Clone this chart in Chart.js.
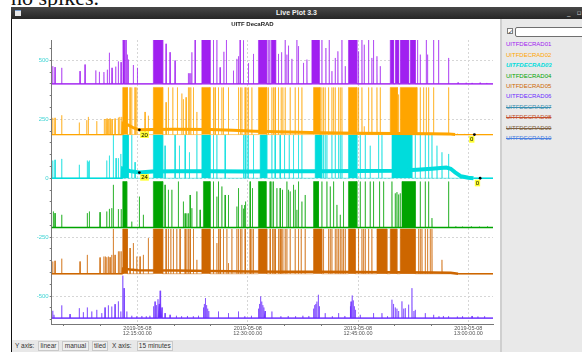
<!DOCTYPE html>
<html>
<head>
<meta charset="utf-8">
<script src="https://cdn.jsdelivr.net/npm/chart.js@4.4.1/dist/chart.umd.min.js"></script>
<style>
  html, body { margin: 0; padding: 0; }
  body { width: 582px; height: 352px; overflow: hidden; position: relative; background: #fff;
         font-family: "Liberation Sans", Arial, sans-serif; }
  .note { position: absolute; left: 11px; top: -13px; font: 22px/22px "Liberation Serif", serif; color: #111; white-space: nowrap; }
  .titlebar { position: absolute; left: 11px; top: 7px; width: 571px; height: 12px;
              background: linear-gradient(#474747, #262626); color: #f0f0f0; }
  .titlebar .name { position: absolute; left: 0; right: 0; top: 0; text-align: center; font: bold 7px/12px "Liberation Sans", Arial, sans-serif; }
  .titlebar .icon { position: absolute; left: 4px; top: 3px; width: 6px; height: 6px; background: #e8e8e8; border-top: 1px solid #7a9fd0; box-sizing: border-box; }
  .titlebar .btns { position: absolute; left: 556px; top: 0; font: 7px/12px "DejaVu Sans", sans-serif; color: #ccc; letter-spacing: 2px; white-space: nowrap; }
  .frame { position: absolute; left: 11px; top: 19px; width: 1.4px; height: 333px; background: #111; }
  .plotpanel { position: absolute; left: 12px; top: 19px; width: 488px; height: 320px; background: #fff; }
  #plot { position: absolute; left: 12px; top: 20px; }
  .divider { position: absolute; left: 500px; top: 19px; width: 2px; height: 333px; background: #cfcfcf; }
  .side { position: absolute; left: 502px; top: 19px; width: 80px; height: 333px; background: #e9e9e9; }
  .check { position: absolute; left: 507px; top: 28px; width: 6px; height: 6px; border: 1px solid #7d7d7d; background: #fff;
           box-sizing: border-box; font: bold 6px/5px "DejaVu Sans", sans-serif; color: #333; text-align: center; }
  .search { position: absolute; left: 515px; top: 26.5px; width: 72px; height: 10px; border: 1px solid #6f6f6f; border-radius: 2px;
            background: #fff; box-sizing: border-box; }
  .legend { position: absolute; left: 506px; top: 39.3px; font: 6px/10.44px "Liberation Sans", Arial, sans-serif; white-space: nowrap; }
  .legend div { height: 10.44px; }
  .toolbar { position: absolute; left: 12px; top: 339.5px; width: 488px; height: 13px; background: #e8e8e8; }
  .tb { position: absolute; top: 341px; height: 10px; font: 6.5px/10px "Liberation Sans", Arial, sans-serif; color: #333; white-space: nowrap; }
  .tb.btn { border: 1px solid #c9c9c9; background: #efefef; box-sizing: border-box; text-align: center; line-height: 8px; }
</style>
</head>
<body>
<div class="note">no spikes.</div>
<div class="titlebar"><div class="icon"></div><div class="name">Live Plot 3.3</div><div class="btns">_ ▫ ×</div></div>
<div class="frame"></div>
<div class="plotpanel"></div>
<canvas id="plot" width="488" height="319"></canvas>
<div class="divider"></div>
<div class="side"></div>
<div class="check">✓</div>
<div class="search"></div>
<div class="legend" id="legend"></div>
<div class="toolbar"></div>
<div class="tb" style="left:15px">Y axis:</div>
<div class="tb btn" style="left:38px;width:21px">linear</div>
<div class="tb btn" style="left:62px;width:27px">manual</div>
<div class="tb btn" style="left:92px;width:16px">tiled</div>
<div class="tb" style="left:112px">X axis:</div>
<div class="tb btn" style="left:136.5px;width:36.5px">15 minutes</div>

<script>
// ---- channels ----
const seriesNames = ['UITFDECRAD01', 'UITFDECRAD02', 'UITFDECRAD03', 'UITFDECRAD04', 'UITFDECRAD05',
                     'UITFDECRAD06', 'UITFDECRAD07', 'UITFDECRAD08', 'UITFDECRAD09', 'UITFDECRAD10'];
const seriesColors = ['#a020f0', '#ffa500', '#00dcdc', '#00a400', '#cd6600',
                      '#6a2bff', '#3a8fb0', '#c4502e', '#7d6142', '#4a7fe0'];
const seriesHidden = [false, false, false, false, false, false, true, true, true, true];
const selectedSeries = 2;

// tiled display: each visible channel is shifted by its offset and saturates at its ceiling
const traceOffsets = [400, 185, 0, -209, -405, -593];
const traceCeilings = [190, 200, 183, 195, 190, 180];

// ---- axes (x in minutes after 12:00) ----
const xMin = 3.35, xMax = 63.35;
const yMin = -618, yMax = 586;
const xTickMinutes = [5, 10, 15, 20, 25, 30, 35, 40, 45, 50, 55, 60];
const xLabelMinutes = [15, 30, 45, 60];
const xLabelDates = ['2019-05-08', '2019-05-08', '2019-05-08', '2019-05-08'];
const xLabelTimes = ['12:15:00.00', '12:30:00.00', '12:45:00.00', '13:00:00.00'];
const yTickValues = [-600, -550, -500, -450, -400, -350, -300, -250, -200, -150, -100, -50,
                     0, 50, 100, 150, 200, 250, 300, 350, 400, 450, 500, 550];
const yLabelValues = [-500, -250, 0, 250, 500];

// ---- background level of each channel: [minute, counts] ----
const floor01 = [[3.35, 0], [63.35, 0]];
const floor02 = [[3.35, 0], [13.0, 0], [13.05, 48], [13.8, 40], [14.5, 28], [15.27, 20], [17, 22], [20, 23], [25, 22],
                 [28, 18], [31, 14], [34, 12], [37, 10], [40, 8], [45, 6], [50, 5], [55, 4], [57.3, 3], [58.2, 0],
                 [60.82, 0], [63.35, 0]];
const floor03 = [[3.35, 0], [13.0, 0], [13.05, 40], [14.0, 30], [15.27, 24], [17, 28], [20, 30], [25, 30], [30, 28],
                 [35, 30], [40, 30], [45, 31], [50, 32], [53, 36], [55, 40], [57, 45], [57.6, 40], [58.2, 25],
                 [59, 8], [60, 2], [60.7, 0], [61.6, 0], [63.35, 0]];
const floor04 = [[3.35, 0], [63.35, 0]];
const floor05 = [[3.35, 0], [13.0, 0], [13.05, 22], [14, 18], [15, 15], [20, 14], [25, 12], [30, 10], [35, 9],
                 [40, 8], [45, 7], [50, 6], [55, 5], [57.6, 4], [58.6, 0], [63.35, 0]];
const floor06 = [[3.35, 0], [63.35, 0]];

// ---- single spikes: [minute, counts] ----
const spikes01 = [[3.49, 75], [3.80, 71], [4.71, 68], [7.20, 54], [7.88, 82], [9.34, 57], [9.83, 51], [10.45, 50],
  [10.91, 60], [11.19, 132], [11.55, 68], [12.05, 73], [12.41, 95], [12.78, 92], [13.05, 190], [13.2, 190],
  [13.35, 190], [13.5, 190], [13.64, 124], [13.78, 103], [14.45, 80], [15.0, 68],
  [18.90, 170], [19.44, 134], [20.12, 99], [21.93, 45], [22.1, 45], [22.26, 45], [22.40, 134], [22.85, 190],
  [25.34, 190], [25.80, 190], [26.25, 70], [26.75, 136], [27.1, 190], [28.06, 56], [28.52, 106], [28.74, 117],
  [28.97, 190], [29.42, 185], [30.10, 88], [30.78, 127], [32.85, 190], [33.0, 190],
  [34.18, 127], [34.6, 134], [35.09, 190], [35.32, 124], [35.54, 162], [36.0, 106], [36.68, 190], [36.9, 160],
  [37.58, 89], [38.05, 103], [40.08, 190], [40.63, 152], [41.08, 190], [41.44, 54], [41.9, 110], [42.26, 138],
  [42.81, 190], [43.26, 75], [45.06, 138], [45.53, 190], [45.84, 166], [46.43, 190], [46.88, 110], [47.10, 190],
  [47.57, 117], [48.02, 75], [53.09, 190], [53.46, 124], [54.28, 190], [54.45, 124], [55.27, 190], [55.95, 190],
  [57.31, 110], [58.6, 6], [59.7, 5], [60.5, 4], [61.6, 5], [62.5, 4]];
const spikes02 = [[3.49, 71], [3.80, 71], [4.71, 82], [7.10, 51], [8.11, 61], [8.33, 75], [9.47, 57], [10.5, 66],
  [10.7, 66], [10.87, 68], [11.05, 66], [11.28, 68], [11.55, 66], [11.96, 68], [12.41, 72], [12.6, 75], [12.87, 75],
  [14.0, 200], [14.23, 200], [14.68, 200], [14.91, 200], [16.04, 96], [16.49, 80],
  [18.90, 137], [19.21, 200], [19.81, 200], [20.44, 200], [21.04, 174], [21.25, 150], [21.62, 158], [21.93, 200],
  [22.1, 200], [22.26, 200], [22.62, 200], [23.08, 96],
  [25.34, 200], [25.57, 200], [26.02, 200], [26.48, 200], [26.7, 200], [27.38, 200], [28.74, 200], [29.0, 200],
  [29.2, 200], [29.65, 200], [29.88, 200], [30.10, 200], [30.56, 200],
  [32.82, 200], [33.28, 200], [33.5, 200], [33.73, 200], [34.18, 200], [34.55, 200], [34.78, 200], [35.09, 200],
  [35.77, 200], [36.45, 200], [36.9, 200], [37.36, 200],
  [40.08, 200], [40.3, 200], [40.53, 200], [40.99, 200], [41.44, 200], [41.67, 200], [41.9, 200], [42.35, 200],
  [42.58, 200], [42.81, 200], [45.06, 200], [45.53, 200], [45.84, 35], [46.43, 200], [46.88, 200], [47.57, 200],
  [48.02, 200], [50.5, 170], [53.46, 200], [53.91, 200], [54.28, 200], [54.59, 200], [55.27, 200], [57.31, 200],
  [58.5, 4], [59.5, 3]];
const spikes03 = [[3.49, 75], [3.80, 78], [4.71, 82], [7.10, 57], [8.19, 75], [8.33, 70], [8.47, 75], [10.83, 75],
  [11.19, 96], [11.73, 183], [12.10, 85], [12.41, 85], [12.74, 103], [14.23, 183], [14.68, 68],
  [18.76, 138], [20.12, 183], [20.71, 138], [21.49, 183], [22.07, 110], [23.08, 183],
  [25.34, 183], [25.80, 183], [26.93, 183], [29.42, 183], [29.65, 183], [29.9, 183], [30.1, 183], [30.78, 183],
  [33.28, 183], [33.73, 183], [34.41, 183], [35.0, 183], [35.64, 183], [36.22, 183], [36.9, 183], [37.36, 183],
  [40.3, 183], [40.53, 183], [40.76, 183], [41.44, 183], [41.9, 183], [42.35, 183], [42.58, 183], [42.81, 183],
  [45.3, 183], [45.98, 183], [46.65, 138], [47.79, 183], [48.25, 183],
  [52.78, 183], [53.46, 183], [54.14, 183], [54.59, 183], [55.05, 183], [55.73, 138], [56.41, 110], [57.31, 103]];
const spikes04 = [[3.57, 68], [3.80, 61], [4.71, 54], [8.19, 61], [8.47, 68], [9.92, 65], [10.83, 68], [11.19, 79],
  [11.51, 82], [11.73, 181], [12.41, 78], [12.8, 78], [14.23, 25], [15.27, 131], [15.81, 54],
  [18.76, 181], [19.21, 160], [19.68, 160], [20.57, 195], [21.25, 110], [21.49, 60], [21.72, 60], [21.93, 60],
  [22.17, 138], [22.4, 82], [23.08, 153], [23.53, 75],
  [25.34, 195], [25.80, 131], [26.02, 195], [26.48, 174], [26.93, 138], [27.38, 138], [28.52, 89], [28.74, 167],
  [29.2, 96], [29.42, 80], [29.56, 95], [29.7, 110], [30.33, 195], [30.64, 167],
  [33.05, 195], [33.28, 195], [33.5, 195], [33.96, 167], [34.41, 167], [34.72, 160], [35.32, 195], [35.54, 160],
  [35.77, 153], [36.22, 181], [36.45, 160], [36.68, 75], [36.9, 195], [37.36, 110], [37.81, 138],
  [40.08, 195], [40.76, 195], [41.22, 174], [41.67, 195], [42.13, 96], [42.58, 54], [43.02, 195],
  [45.3, 195], [45.98, 195], [46.65, 195], [47.10, 195], [47.92, 195], [48.47, 195],
  [49.61, 195], [50.06, 145], [50.29, 150], [50.51, 140], [50.74, 145],
  [53.46, 195], [54.14, 195], [54.59, 195], [55.05, 40], [57.31, 195],
  [58.3, 5], [59.2, 4], [60.4, 5], [61.5, 4], [62.6, 5]];
const spikes05 = [[3.49, 52], [3.80, 55], [4.71, 64], [7.20, 52], [8.19, 80], [9.92, 69], [10.45, 73], [10.65, 73],
  [10.83, 70], [11.05, 73], [11.28, 70], [11.51, 80], [11.73, 190], [11.96, 80], [12.41, 95], [12.6, 95], [12.8, 95],
  [14.0, 109], [14.45, 130], [14.91, 73], [15.36, 73], [15.81, 80], [16.49, 151],
  [18.90, 190], [19.21, 190], [19.54, 190], [19.89, 190], [20.35, 190], [20.8, 190], [21.49, 190], [21.72, 190],
  [21.93, 190], [22.17, 190], [22.62, 190], [23.08, 59],
  [25.34, 190], [25.8, 130], [26.02, 190], [26.25, 190], [26.7, 190], [27.16, 190], [27.38, 45], [27.84, 190],
  [28.52, 190], [28.74, 190], [29.0, 190], [29.2, 190], [29.65, 190], [30.33, 190], [30.56, 190], [30.78, 190],
  [33.05, 190], [33.37, 190], [33.55, 190], [33.73, 190], [34.18, 190], [34.41, 190], [34.6, 190], [34.78, 190],
  [35.09, 190], [35.32, 190], [35.77, 190], [36.45, 190], [36.9, 190], [37.27, 190], [37.81, 190],
  [40.3, 190], [40.99, 190], [41.22, 190], [41.44, 190], [41.9, 190], [42.13, 190], [42.35, 190], [42.58, 190],
  [42.81, 190], [43.02, 190], [43.26, 190],
  [45.06, 190], [45.53, 190], [45.75, 190], [45.98, 190], [46.43, 190], [46.88, 190],
  [53.23, 190], [53.46, 190], [53.69, 190], [54.14, 190], [54.45, 190], [54.82, 190], [55.05, 190], [56.41, 59]];
const spikes06 = [[3.49, 31], [3.66, 14], [4.71, 54], [5.84, 17], [7.10, 42], [7.65, 25], [8.19, 45], [8.79, 28],
  [9.47, 35], [10.15, 21], [10.60, 45], [11.05, 54], [11.51, 49], [11.96, 59], [12.41, 71], [12.74, 28], [13.01, 180],
  [13.19, 127], [13.56, 28], [14.23, 10], [14.9, 8], [15.6, 9], [16.2, 8], [16.7, 10],
  [17.2, 50], [17.4, 70], [17.6, 55], [17.8, 80], [17.95, 60], [18.08, 116], [18.2, 65], [18.35, 45],
  [18.76, 21], [19.44, 14], [20.3, 10], [21.0, 8], [21.8, 9], [22.6, 8], [23.3, 10],
  [23.98, 45], [24.1, 60], [24.25, 85], [24.4, 55], [24.55, 40], [24.7, 30],
  [26.02, 28], [27.38, 21], [28.74, 28], [29.6, 8], [30.5, 10],
  [31.46, 40], [31.6, 60], [31.75, 92], [31.9, 70], [32.05, 55], [32.2, 45], [32.37, 30],
  [33.28, 28], [34.5, 8], [35.5, 9], [36.5, 8], [37.5, 10], [38.3, 9],
  [38.95, 40], [39.1, 55], [39.25, 60], [39.4, 70], [39.6, 99], [39.75, 50],
  [40.53, 21], [41.5, 8], [42.35, 21], [43.2, 9],
  [43.93, 50], [44.05, 70], [44.2, 96], [44.35, 75], [44.5, 50], [44.65, 35],
  [45.3, 14], [47.1, 21], [48.25, 21], [49.0, 8],
  [49.61, 78], [49.82, 60], [50.06, 45], [50.29, 40], [50.51, 30], [50.97, 71], [51.2, 40], [51.42, 42],
  [51.87, 57], [52.33, 127], [52.6, 30], [52.78, 35],
  [54.14, 21], [55.27, 14], [56.0, 8], [56.6, 9], [57.3, 8], [58.5, 7], [59.2, 8], [60.5, 9], [61.3, 7], [62.2, 8]];

// ---- saturated beam periods: [start minute, end minute] ----
const bursts01 = [[17.17, 18.45], [23.76, 24.89], [31.46, 32.6], [33.2, 33.8], [38.72, 39.72], [43.7, 44.85],
                  [49.38, 49.82], [50.06, 50.51], [50.74, 51.87], [52.1, 52.78]];
const bursts02 = [[13.01, 13.64], [17.17, 18.45], [23.76, 24.89], [31.46, 32.6], [38.95, 39.85], [43.7, 44.85],
                  [49.38, 50.35], [50.74, 53.01]];
const bursts03 = [[13.01, 13.78], [17.17, 18.45], [23.76, 24.89], [31.69, 32.6], [39.17, 40.08], [43.7, 44.85],
                  [49.61, 52.33]];
const bursts04 = [[13.01, 13.56], [17.17, 18.45], [23.98, 24.89], [31.46, 32.5], [38.95, 39.62], [43.7, 44.85],
                  [50.97, 52.78]];
const bursts05 = [[13.01, 13.64], [17.17, 18.45], [23.76, 24.89], [31.46, 32.6], [38.95, 40.08], [43.7, 44.62],
                  [47.57, 48.93], [49.38, 50.29], [50.74, 52.78]];
const bursts06 = [];

// ---- cursor read-outs: channel index, minute, counts ----
const markerSeries = [1, 2, 1, 2];
const markerMinutes = [15.27, 15.27, 60.82, 61.6];
const markerValues = [20, 24, 0, 0];

// ---------------------------------------------------------------
const floors = [floor01, floor02, floor03, floor04, floor05, floor06];
const spikes = [spikes01, spikes02, spikes03, spikes04, spikes05, spikes06];
const bursts = [bursts01, bursts02, bursts03, bursts04, bursts05, bursts06];
const floorNoiseWidth = [1.3, 3, 4, 1.3, 2.5, 1.3];
const FONT = '"Liberation Sans", Arial, sans-serif';

function withAlpha(hex, a) {
  const n = parseInt(hex.slice(1), 16);
  return `rgba(${n >> 16},${(n >> 8) & 255},${n & 255},${a})`;
}

// legend panel
const legendEl = document.getElementById('legend');
seriesNames.forEach((name, i) => {
  const d = document.createElement('div');
  d.textContent = name;
  d.style.color = seriesColors[i];
  if (i === selectedSeries) { d.style.fontWeight = 'bold'; d.style.fontStyle = 'italic'; }
  if (seriesHidden[i]) d.style.textDecoration = 'line-through';
  legendEl.appendChild(d);
});

// spike/burst outline of one channel, sitting on its offset
function traceData(i) {
  const off = traceOffsets[i], top = traceCeilings[i], w = 0.02;
  const ev = [];
  spikes[i].forEach(([t, v]) => ev.push({ t, pts: [[t - w, 0], [t, Math.min(v, top)], [t + w, 0]] }));
  bursts[i].forEach(([a, b]) => ev.push({ t: a, pts: [[a, 0], [a, top], [b, top], [b, 0]] }));
  ev.sort((p, q) => p.t - q.t);
  const out = [{ x: xMin, y: off }];
  ev.forEach(e => e.pts.forEach(([x, v]) => out.push({ x, y: off + v })));
  out.push({ x: xMax, y: off });
  return out;
}

const datasets = [];
// read-out points first so they sit on top
datasets.push({
  label: 'readout', data: markerSeries.map((s, k) => ({ x: markerMinutes[k], y: traceOffsets[s] + markerValues[k] })),
  showLine: false, pointRadius: 1.4, pointBackgroundColor: '#000', pointBorderWidth: 0, order: 0
});
const markerDatasetIndex = 0;

for (let i = 0; i < 6; i++) {
  const off = traceOffsets[i];
  datasets.push({
    label: seriesNames[i] + ' level',
    data: floors[i].map(([t, v]) => ({ x: t, y: off + v })),
    borderColor: seriesColors[i], borderWidth: 1.3, pointRadius: 0, fill: false, order: 1,
    segment: { borderWidth: c => (c.p0.parsed.y - off > 0.5 || c.p1.parsed.y - off > 0.5) ? floorNoiseWidth[i] : 1.3 }
  });
  datasets.push({
    label: seriesNames[i],
    data: traceData(i),
    borderColor: withAlpha(seriesColors[i], 0.55), backgroundColor: seriesColors[i], borderWidth: 1,
    borderJoinStyle: 'bevel', pointRadius: 0, fill: { value: off }, order: 2
  });
}

const readoutLabels = {
  id: 'readoutLabels',
  afterDatasetsDraw(chart) {
    const meta = chart.getDatasetMeta(markerDatasetIndex);
    const ctx = chart.ctx;
    ctx.save();
    ctx.font = '6px ' + FONT;
    ctx.textBaseline = 'middle';
    meta.data.forEach((pt, k) => {
      const text = String(markerValues[k]);
      const w = ctx.measureText(text).width + 2;
      const h = 6.6;
      const left = pt.x > chart.chartArea.right - 30;
      const bx = left ? pt.x - w : pt.x + 0.8;
      const by = pt.y + 1.5;
      ctx.fillStyle = '#ffff33';
      ctx.fillRect(bx, by, w, h);
      ctx.fillStyle = '#000';
      ctx.fillText(text, bx + 1, by + h / 2 + 0.3);
    });
    ctx.restore();
  }
};

new Chart(document.getElementById('plot'), {
  type: 'line',
  data: { datasets },
  plugins: [readoutLabels],
  options: {
    responsive: false, animation: false, devicePixelRatio: 1,
    layout: { padding: { left: 0, right: 7, top: 0, bottom: 0 } },
    elements: { line: { tension: 0 } },
    plugins: {
      legend: { display: false },
      tooltip: { enabled: false },
      title: { display: true, text: 'UITF DecaRAD', color: '#222',
               font: { family: FONT, size: 6, weight: 'bold' }, padding: { top: 1, bottom: 11.8 } }
    },
    scales: {
      x: {
        type: 'linear', min: xMin, max: xMax,
        afterBuildTicks: s => { s.ticks = xTickMinutes.map(v => ({ value: v })); },
        afterFit: s => { s.height = 15; },
        ticks: {
          autoSkip: false, maxRotation: 0, padding: 0, color: '#555',
          font: { family: FONT, size: 5.5, lineHeight: 0.95 },
          callback: v => { const k = xLabelMinutes.indexOf(v); return k < 0 ? '' : [xLabelDates[k], xLabelTimes[k]]; }
        },
        grid: {
          color: c => (c.tick && xLabelMinutes.includes(c.tick.value)) ? '#d6d6d6' : 'rgba(0,0,0,0)',
          tickColor: '#777', tickLength: 2, lineWidth: 1
        },
        border: { color: '#777', width: 1, dash: [2, 2] }
      },
      y: {
        type: 'linear', min: yMin, max: yMax,
        afterBuildTicks: s => { s.ticks = yTickValues.map(v => ({ value: v })); },
        afterFit: s => { s.width = 39.7; },
        ticks: {
          autoSkip: false, padding: 1, color: '#3fd4d4',
          font: { family: FONT, size: 6 },
          callback: v => yLabelValues.includes(v) ? String(v) : ''
        },
        grid: {
          color: c => (c.tick && yLabelValues.includes(c.tick.value)) ? '#d6d6d6' : 'rgba(0,0,0,0)',
          tickColor: '#777', tickLength: 2, lineWidth: 1
        },
        border: { color: '#777', width: 1, dash: [2, 2] }
      }
    }
  }
});
</script>
</body>
</html>
